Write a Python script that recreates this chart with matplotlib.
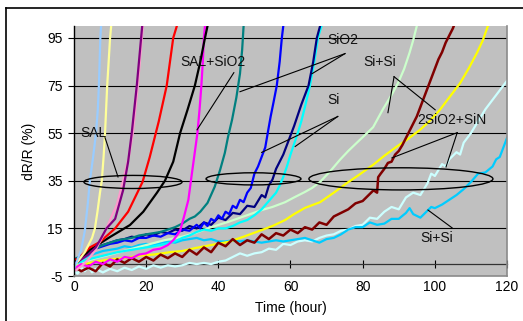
import matplotlib
matplotlib.use("Agg")
import matplotlib.pyplot as plt
from matplotlib.patches import Ellipse
from matplotlib.lines import Line2D

plt.rcParams['font.family'] = ['Liberation Sans', 'DejaVu Sans']
plt.rcParams['axes.unicode_minus'] = False

# ---------------- data: resistance change vs. time ----------------
xticks = [0, 20, 40, 60, 80, 100, 120]
yticks = [-5, 15, 35, 55, 75, 95]
x_label = "Time (hour)"
y_label = "dR/R (%)"

# SAL samples
sal_a_t = [0, 1, 2, 3, 3.8, 4.4, 5.3, 6.1, 6.6, 6.9, 7.1, 7.3, 7.5]
sal_a_v = [-2, 2, 6, 14, 25, 35, 45, 55, 65, 75, 85, 95, 100]
sal_b_t = [0, 1, 2, 3, 4, 5, 5.8, 6.5, 7.2, 7.7, 8.2, 8.6, 9.2, 10, 10.3]
sal_b_v = [-1, 1, 3, 5, 8, 11, 15, 22, 30, 35, 45, 55, 75, 95, 100]
sal_c_t = [0, 2, 4, 6, 7.2, 9, 11.4, 12.5, 13.6, 15, 16, 17.4, 18.6, 18.9]
sal_c_v = [0, 2, 4, 7, 10, 15, 19, 25, 31, 43, 55, 75, 95, 100]
sal_d_t = [0, 2, 4, 6, 8.1, 10, 11.9, 13.6, 15.2, 16.3, 17.7, 18.8, 19.1]
sal_d_v = [-3, -1, 2, 6, 12, 18.5, 25, 35, 45, 55, 75, 95, 100]
sal_e_t = [0, 1, 4.4, 7.2, 11.4, 15, 19, 21, 22, 23.5, 25.7, 27.5, 28.5]
sal_e_v = [2, 2, 7, 9.3, 15, 22, 34.5, 45, 51, 60, 75, 95, 100]

# SAL+SiO2 samples
salox_a_t = [0, 1, 4.4, 10, 15.5, 19.2, 23, 25.2, 27.5, 29.4, 31.5, 33.5, 35, 36.3, 37]
salox_a_v = [2.5, 0.8, 6, 11.4, 16.4, 22, 30, 35, 43, 55, 65, 75, 85, 95, 100]
salox_b_t = [0, 2, 4, 6, 8, 10, 12, 14, 16, 18, 20, 22, 24, 26, 27.5, 28.5, 29.4,
             30.5, 31.7, 32.4, 33.3, 34.2, 34.8, 35.3, 35.7, 36, 36.3]
salox_b_v = [-2, 0, -1, 1, 0, 2, 1, 3, 2.5, 4, 4.5, 6, 6.5, 8, 10, 12, 14,
             20, 27, 35, 45, 55, 65, 75, 85, 95, 100]

# SiO2 sample
ox_t = [0, 2, 4, 6, 8, 10, 12, 14, 16, 18, 20, 22, 24, 26, 28, 30, 32, 33.5, 35,
        37, 39, 40.5, 41.8, 42.7, 43.8, 45, 46, 46.6, 47]
ox_v = [2, 3.5, 5, 6.5, 8, 9, 10, 10.5, 11, 12, 12.5, 13, 13.5, 14.5, 15.5, 17, 19, 20, 22,
        25.7, 32.5, 39.6, 46.7, 53.5, 60.6, 70, 80, 90, 100]

# Si samples
si_a_t = [0, 2, 4, 6, 8, 10, 12, 14, 16, 18, 20, 22, 24, 26, 28, 30, 32, 34, 35, 36, 37,
          38, 39, 40, 41, 42, 43, 44, 45, 46, 47, 48, 49, 50, 51, 52, 53, 53.8, 54.5,
          55.3, 56.2, 57, 57.6, 58]
si_a_v = [1, 3, 5, 6.5, 7.5, 8.5, 9, 10, 9.5, 11, 11, 12, 11.5, 13, 12.5, 14.5, 14, 16.5, 15,
          17.5, 16, 19, 18, 20.5, 19, 22, 21, 24.5, 23.5, 27, 26, 30, 32, 38, 41, 45, 49, 56,
          62, 68, 75, 85, 95, 100]
si_b_t = [0, 2, 4, 6, 8, 10, 12, 14, 16, 18, 20, 22, 24, 26, 28, 30, 32, 34, 36, 38, 40,
          42, 44, 46, 48, 50, 52, 53, 54, 55, 56, 57, 58, 59, 60, 61, 62, 63, 64, 65,
          66.3, 67.3, 68.2]
si_b_v = [1, 3.5, 5, 7, 8, 9, 10, 10.5, 11.5, 11, 12.5, 12, 13.5, 13, 14.5, 14, 16, 15, 17.5,
          16.5, 19.5, 18.5, 21.5, 21, 24.5, 24, 29, 28, 33, 35.5, 40, 43, 46, 50, 54, 58,
          62.5, 67, 71, 75, 85, 95, 100]
si_c_t = [0, 4, 8, 12, 16, 20, 24, 28, 30, 32, 34, 36, 38, 40, 42, 44, 46, 48, 50, 52, 54,
          56, 57, 58, 59, 60, 61, 62, 63, 64, 65.4, 66.6, 67.6, 68.6]
si_c_v = [0, 2, 3.5, 5, 6, 7, 8, 9.5, 11, 12, 13.5, 14.5, 14, 15, 15, 16, 17.5, 18.5, 20.5,
          23, 26.5, 30, 33, 36.6, 41, 46, 50.5, 55, 60, 66, 75, 85, 95, 100]

# Si+Si samples
sisi_a_t = [0, 3, 6, 10, 15, 20, 25, 30, 33.5, 38, 42.7, 47, 52, 55, 58.5, 61, 64, 66,
            68.2, 71, 73.7, 76, 78.4, 80.5, 82.9, 85.6, 88, 89.8, 91.5, 93, 94, 95]
sisi_a_v = [-1, 1, 2.5, 4, 6, 8, 10, 11.5, 13, 15.5, 17.7, 20, 22.7, 24, 26, 28, 30.3, 32,
            34.5, 39, 43.8, 47.5, 51, 54, 57.5, 65, 71, 76, 82, 88.8, 94, 100]
sisi_b_t = [0, 1, 2, 3, 4, 5, 6, 8, 10, 12, 14, 16, 18, 20, 22, 24, 26, 28, 30, 32, 34, 36,
            38, 40, 42, 44, 46, 48, 50, 52, 54, 56, 58, 60, 62, 64, 66, 68, 70, 72, 74,
            76, 78, 80, 82, 84, 86, 88, 90, 92, 94, 96, 98, 99, 100, 102, 103, 104,
            106, 107, 108, 110, 112, 114, 116, 118, 120]
sisi_b_v = [-3, -4, -1.5, -3, -1, -3.5, -2, -3.5, -2, -3, -1.5, -2.5, -1, -2, -0.5, -1.5,
            -0.5, -1, -0.5, 0.5, 0, 0.5, 0, 1, 1.5, 3, 4.5, 3.5, 4.5, 5, 6.5, 6, 8.5, 8,
            9.5, 10, 9.5, 11, 12, 12.5, 14, 14.5, 16, 16.5, 19.5, 19, 22, 24, 23, 28, 30,
            29, 34, 38, 37, 42, 41, 44, 47, 46, 51, 55, 60, 65, 69, 73, 77]
sisi_c_t = [0, 2, 4, 6, 8, 10, 12, 14, 16, 18, 20, 22, 24, 26, 28, 30, 32, 34, 36, 38, 40,
            42, 44, 46, 48, 50, 52, 54, 56, 58, 60, 62, 64, 66, 68, 70, 72, 74, 76, 78,
            80, 82, 84, 86, 88, 90, 92, 93, 94, 96, 98, 99, 100, 102, 104, 106, 108, 110,
            112, 114, 116, 117, 118, 119, 120]
sisi_c_v = [0, 2, 3.5, 4.5, 5.5, 6, 6.5, 7.5, 7, 8, 8.5, 8, 9, 9.5, 9, 10, 10.5, 11, 10,
            10.5, 9.5, 9.5, 10, 9.5, 10, 9.5, 9, 9.5, 10, 9.5, 10, 10.5, 11, 10, 9, 10.5,
            11, 12.5, 14.5, 15.5, 15.5, 17.5, 16.5, 17, 19, 19, 21.5, 23.5, 21, 19.5, 22.5,
            24, 23.5, 25, 27, 29, 31.5, 34.5, 38, 38.5, 41, 44, 45, 49, 53]

# 2SiO2+SiN samples
oxn_a_t = [0, 3, 6, 10, 14, 18, 22, 26.6, 30, 33.5, 38, 42.7, 47, 52, 55, 58.5, 61, 64,
           68.2, 72, 75.6, 79, 82.9, 86, 89.4, 92.5, 95.9, 98.5, 101.4, 104, 107, 109.5,
           111.7, 113.3, 114.7]
oxn_a_v = [-1, 0, 1, 2, 2.5, 3.5, 4, 5, 5.5, 6.7, 8, 9.3, 11.5, 14.3, 16, 18.5, 21, 23.6,
           26, 30, 34, 37.5, 41.7, 45.5, 49.3, 52.5, 56.4, 60, 64.8, 70, 76, 82.5, 88.8,
           94, 100]
oxn_b_t = [0, 2, 4, 6, 8, 10, 12, 14, 16, 18, 20, 22, 24, 26, 28, 30, 32, 34, 36, 38, 40,
           42, 44, 46, 48, 50, 52, 54, 56, 58, 60, 62, 64, 66, 68, 70, 72, 74, 76, 78, 80,
           82, 83, 84, 84.3, 85, 86, 87, 88, 89, 90, 91, 92, 93, 94, 95, 96, 97, 98, 99,
           100, 101, 102, 103, 104, 105, 105.5]
oxn_b_v = [-1, -3, -1.5, -3, 0.5, -1, 2, 0.5, 2.5, 1, 3, 1.5, 4, 2.5, 4.5, 3, 6, 4, 7, 5, 9,
           7.5, 10.5, 8, 10, 9, 12.5, 10.5, 13, 12, 14.5, 13, 15.5, 14.5, 17.5, 16.5, 20,
           21.5, 23, 25.5, 26.5, 29.5, 31, 30, 36.5, 38, 40, 42.5, 43, 46, 47.5, 50, 53, 56,
           59, 62, 66, 70, 74, 78, 82, 86, 89, 93, 96, 99, 101]

series = [
    (sisi_b_t, sisi_b_v, '#CCFFFF'),
    (sisi_c_t, sisi_c_v, '#00CCFF'),
    (sisi_a_t, sisi_a_v, '#CCFFCC'),
    (oxn_a_t, oxn_a_v, '#FFFF00'),
    (oxn_b_t, oxn_b_v, '#800000'),
    (si_c_t, si_c_v, '#00FFFF'),
    (si_b_t, si_b_v, '#000080'),
    (si_a_t, si_a_v, '#0000FF'),
    (ox_t, ox_v, '#008080'),
    (salox_b_t, salox_b_v, '#FF00FF'),
    (salox_a_t, salox_a_v, '#000000'),
    (sal_e_t, sal_e_v, '#FF0000'),
    (sal_d_t, sal_d_v, '#FF99CC'),
    (sal_c_t, sal_c_v, '#800080'),
    (sal_b_t, sal_b_v, '#FFFF99'),
    (sal_a_t, sal_a_v, '#99CCFF'),
]

# group labels: (text, text position, leader-line apex, leader-line targets)
labels = [
    ("SAL", (1.7, 55.2), (8.6, 53.1), [(12.2, 36.6)]),
    ("SAL+SiO2", (29.4, 85.0), (44.3, 80.4), [(34.1, 56.4)]),
    ("SiO2", (70.1, 94.3), (75.1, 88.4), [(46.0, 72.4), (66.0, 80.0)]),
    ("Si", (70.1, 69.0), (73.1, 62.0), [(52.0, 46.9), (61.3, 49.4)]),
    ("Si+Si", (80.1, 85.0), (88.7, 78.7), [(87.0, 63.6), (100.1, 64.8)]),
    ("2SiO2+SiN", (95.1, 60.6), (106.2, 55.2), [(88.1, 44.6), (103.1, 40.8)]),
    ("Si+Si", (95.9, 10.9), (104.8, 15.2), [(98.1, 22.7)]),
]
# grouping ellipses: (centre, width, height)
groups = [((16.35, 34.5), 27.2, 5.5), ((49.75, 35.8), 26.3, 5.1), ((90.6, 35.8), 51.0, 9.3)]

# ---------------- figure ----------------
W, H = 523, 321
fig = plt.figure(figsize=(W / 100, H / 100), dpi=100)
fig.patch.set_facecolor('white')

# outer chart frame (top and left edges)
fig.add_artist(Line2D([6 / W, 6 / W], [0, 1 - 8 / H], color='black', lw=1.2,
                      transform=fig.transFigure))
fig.add_artist(Line2D([6 / W, 1], [1 - 8 / H, 1 - 8 / H], color='black', lw=1.2,
                      transform=fig.transFigure))

ax = fig.add_axes([74 / W, 1 - 276 / H, (507 - 74) / W, (276 - 26) / H])
ax.set_facecolor('#C0C0C0')
ax.set_xlim(0, 120)
ax.set_ylim(-5, 100)

for yv in yticks[1:]:
    ax.axhline(yv, color='black', lw=0.8, zorder=1)

for t, v, c in series:
    ax.plot(t, v, color=c, lw=1.8 if c == '#800000' else 1.6, zorder=2,
            solid_joinstyle='round')

for text, pos, apex, targets in labels:
    ax.text(pos[0], pos[1], text, ha='left', va='center', fontsize=10,
            color='#111111', zorder=5)
    for tx, ty in targets:
        ax.plot([apex[0], tx], [apex[1], ty], color='black', lw=0.8, zorder=4)

for centre, w, h in groups:
    ax.add_patch(Ellipse(centre, w, h, fill=False, ec='black', lw=1.0, zorder=4))

ax.set_yticks(yticks)
ax.set_xticks(xticks)
ax.tick_params(axis='y', direction='out', length=4.3, width=0.8, pad=4, labelsize=10)
ax.tick_params(axis='x', length=0, pad=3, labelsize=10)

ax.spines['top'].set_visible(False)
ax.spines['left'].set_color('black')
ax.spines['left'].set_linewidth(1.0)
ax.spines['right'].set_color('#8A8A8A')
ax.spines['bottom'].set_color('#8A8A8A')
ax.spines['right'].set_linewidth(1.2)
ax.spines['bottom'].set_linewidth(1.2)

# category axis crossing at zero
ymin, ymax = ax.get_ylim()
zero_axis = ax.secondary_xaxis((0 - ymin) / (ymax - ymin))
zero_axis.set_xticks(xticks)
zero_axis.tick_params(direction='inout', length=6, width=0.8, labelbottom=False,
                      labeltop=False)
zero_axis.spines['bottom'].set_color('#333333')
zero_axis.spines['bottom'].set_linewidth(0.9)

ax.set_xlabel(x_label, fontsize=10, labelpad=5)
ax.set_ylabel(y_label, fontsize=10, labelpad=8)

fig.savefig('out.png', dpi=100)
